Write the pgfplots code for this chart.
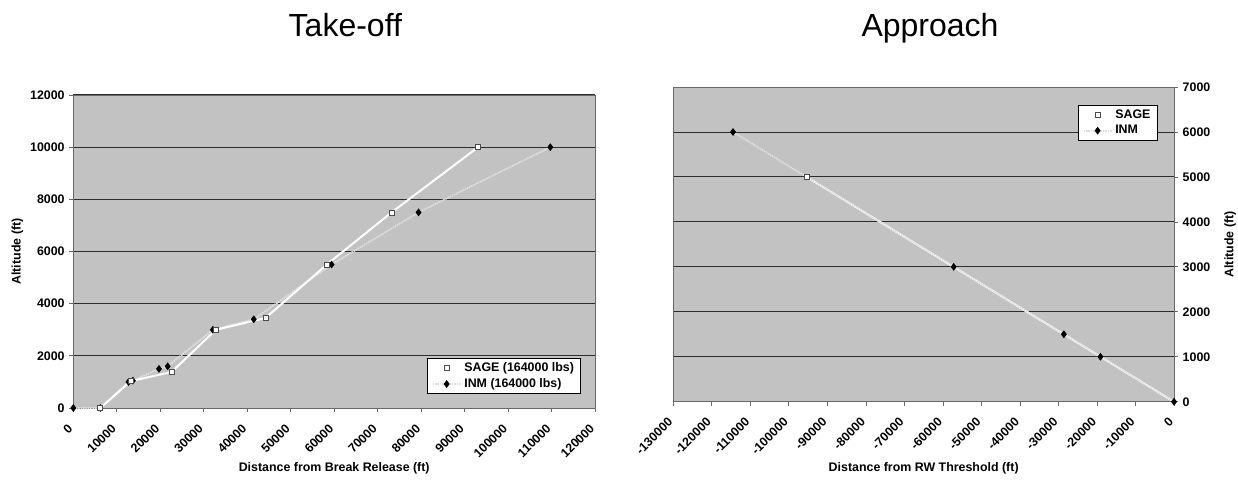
\documentclass[border=0pt]{standalone}
\usepackage{fontspec}
\setmainfont{Liberation Sans}
\usepackage{pgfplots}
\pgfplotsset{compat=1.18}

\definecolor{plotbg}{RGB}{194,194,194}
\definecolor{gridc}{RGB}{45,45,45}
\definecolor{framec}{RGB}{105,105,105}
\definecolor{inmline}{RGB}{222,222,222}

\pgfplotsset{
  chartbase/.style={
    scale only axis,
    axis background/.style={fill=plotbg},
    axis line style={framec, line width=0.6pt},
    ymajorgrids,
    grid style={gridc, line width=0.75pt},
    tick align=outside,
    major tick length=3pt,
    tick style={framec, line width=0.6pt},
    xtick pos=left,
    ticklabel style={font=\bfseries\fontsize{9.3}{11}\selectfont},
    /pgf/number format/assume math mode=true,
    /pgf/number format/fixed,
    /pgf/number format/precision=0,
    /pgf/number format/1000 sep={},
    scaled ticks=false,
    xticklabel shift=8.5pt,
    xticklabel style={rotate=45, anchor=east, inner sep=1pt, xshift=-2pt},
    label style={font=\bfseries\fontsize{9.3}{11}\selectfont},
    clip=false,
    legend cell align=left,
    legend style={draw=black, line width=0.6pt, fill=white,
      font=\bfseries\fontsize{9.3}{11}\selectfont,
      inner xsep=3pt, inner ysep=1pt, row sep=0pt},
    legend image code/.code={%
      \draw[mark repeat=2,mark phase=2,#1]
        plot coordinates {(0pt,0pt) (10.5pt,0pt) (21pt,0pt)};},
  },
  inm/.style={inmline, line width=1.4pt, dash pattern=on 1.2pt off 0.6pt,
    mark=diamond*, mark size=2.6pt,
    mark options={solid, fill=black, draw=black, line width=0.4pt}},
  sage/.style={white, line width=1.5pt, mark=square*, mark size=1.9pt,
    mark options={solid, fill=white, draw=black!70, line width=0.5pt}},
  sageline/.style={white, line width=1.5pt},
}

\begin{document}
\begin{tikzpicture}
\path[use as bounding box] (0,0) rectangle (928.5pt,361.5pt);

% ---------------- Take-off ----------------
\begin{axis}[chartbase,
  at={(55pt,55.5pt)}, anchor=south west,
  width=391.3pt, height=234.75pt,
  xmin=0, xmax=120000, ymin=0, ymax=12000,
  xtick={0,10000,...,120000}, ytick={0,2000,...,12000},
  ytick pos=left,
  xlabel={Distance from Break Release (ft)},
  ylabel={Altitude (ft)},
  xlabel style={at={(axis description cs:0.5,-0.192)}, anchor=center},
  ylabel style={at={(axis description cs:-0.107,0.5)}, anchor=center},
  legend style={at={(0.973,0.045)}, anchor=south east},
]
\addlegendimage{sage}
\addlegendentry{SAGE (164000 lbs)}
\addlegendimage{inm}
\addlegendentry{INM (164000 lbs)}

\addplot[inm, forget plot] coordinates {
  (0,0) (6200,0) (12700,1000) (13700,1050) (19700,1500) (21700,1600)
  (32100,3000) (41500,3400) (59400,5500) (79400,7500) (109700,10000)
};
\addplot[sage, forget plot] coordinates {
  (6200,0) (13200,1030) (22600,1380) (32800,3000) (44200,3450)
  (58300,5500) (73200,7500) (93100,10000)
};
\end{axis}

% ---------------- Approach ----------------
\begin{axis}[chartbase,
  at={(505pt,60.2pt)}, anchor=south west,
  width=375.5pt, height=236pt,
  xmin=-130000, xmax=0, ymin=0, ymax=7000,
  xtick={-130000,-120000,-110000,-100000,-90000,-80000,-70000,
         -60000,-50000,-40000,-30000,-20000,-10000,0},
  xticklabels={-130000,-120000,-110000,-100000,-90000,-80000,-70000,
         -60000,-50000,-40000,-30000,-20000,-10000,0},
  ytick={0,1000,...,7000},
  ytick pos=right, yticklabel pos=right,
  xlabel={Distance from RW Threshold (ft)},
  ylabel={Altitude (ft)},
  xlabel style={at={(axis description cs:0.5,-0.21)}, anchor=center},
  ylabel style={at={(axis description cs:1.112,0.5)}, anchor=center, rotate=0},
  legend style={at={(0.967,0.943)}, anchor=north east},
]
\addlegendimage{sage}
\addlegendentry{SAGE}
\addlegendimage{inm}
\addlegendentry{INM}

\addplot[sageline, forget plot] coordinates {(-95400,5000) (0,0)};
\addplot[inm, forget plot] coordinates {
  (-114500,6000) (-57200,3000) (-28600,1500) (-19100,1000) (0,0)
};
\addplot[sage, only marks, forget plot] coordinates {(-95400,5000)};
\end{axis}

% titles
\node[font=\fontsize{24}{28}\selectfont, anchor=base] at (259pt,333.75pt) {Take-off};
\node[font=\fontsize{24}{28}\selectfont, anchor=base] at (697.5pt,333.75pt) {Approach};
\end{tikzpicture}
\end{document}
